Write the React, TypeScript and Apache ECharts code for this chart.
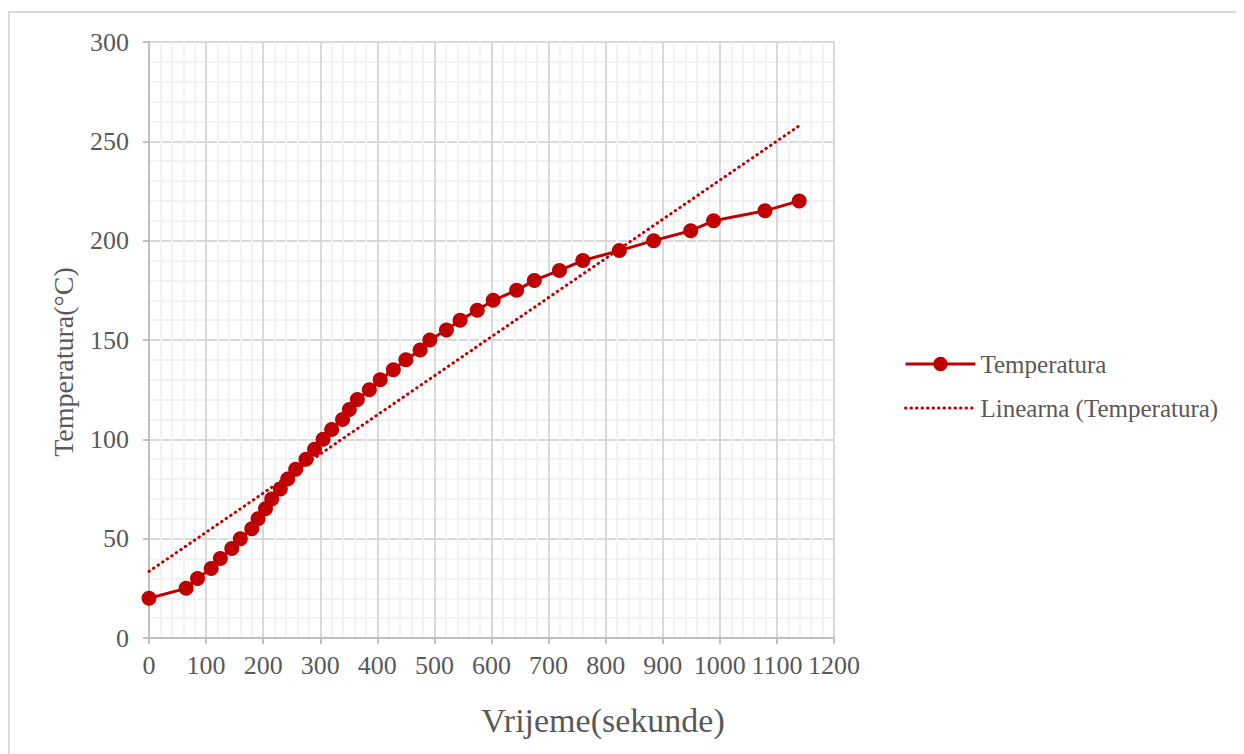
import React, { useEffect, useRef } from "react";
import * as echarts from "echarts";

const timeSec = [0, 65, 85, 109, 125, 145, 160, 180, 191, 204, 215, 230, 243, 257, 275, 290, 305, 320, 339, 351, 365, 386, 405, 428, 450, 475, 492, 521, 545, 575, 603, 644, 675, 719, 760, 824, 884, 949, 989, 1079, 1139];
const tempC = [20, 25, 30, 35, 40, 45, 50, 55, 60, 65, 70, 75, 80, 85, 90, 95, 100, 105, 110, 115, 120, 125, 130, 135, 140, 145, 150, 155, 160, 165, 170, 175, 180, 185, 190, 195, 200, 205, 210, 215, 220];
const trendX = [0, 1140];
const trendY = [33.5, 258];

const seriesName = "Temperatura";
const trendName = "Linearna (Temperatura)";
const xName = "Vrijeme(sekunde)";
const yName = "Temperatura(°C)";

const RED = "#c00000";
const GREY_TEXT = "#595959";
const FONT = "Liberation Serif";

export default function App() {
  const ref = useRef<HTMLDivElement>(null);
  useEffect(() => {
    if (!ref.current) return;
    const chart = echarts.init(ref.current, null, { renderer: "svg" });
    const data = timeSec.map((t, i) => [t, tempC[i]]);
    const trend = trendX.map((t, i) => [t, trendY[i]]);
    chart.setOption({
      animation: false,
      backgroundColor: "#ffffff",
      textStyle: { fontFamily: FONT },
      graphic: [
        {
          type: "rect",
          shape: { x: 1, y: 4, width: 2000, height: 2000 },
          style: { fill: "none", stroke: "#d9d9d9", lineWidth: 2 },
          silent: true,
        },
        {
          type: "text",
          x: 595,
          y: 712,
          style: {
            text: xName,
            fontFamily: FONT,
            fontSize: 34,
            fill: GREY_TEXT,
            align: "center",
            verticalAlign: "middle",
          },
        },
        {
          type: "text",
          x: 55,
          y: 354,
          rotation: Math.PI / 2,
          style: {
            text: yName,
            fontFamily: FONT,
            fontSize: 28,
            fill: GREY_TEXT,
            align: "center",
            verticalAlign: "middle",
          },
        },
      ],
      grid: { left: 141, top: 34, width: 685, height: 596, containLabel: false },
      legend: {
        orient: "vertical",
        left: 891,
        top: 336,
        itemWidth: 70,
        itemHeight: 18,
        itemGap: 14,
        textStyle: { fontFamily: FONT, fontSize: 25, color: GREY_TEXT, lineHeight: 30 },
        data: [
          { name: seriesName, lineStyle: { width: 3 } },
          { name: trendName, itemStyle: { opacity: 0 }, lineStyle: { width: 3 } },
        ],
      },
      xAxis: {
        type: "value",
        min: 0,
        max: 1200,
        interval: 100,
        axisLine: { show: true, lineStyle: { color: "#bfbfbf", width: 2 } },
        axisTick: { show: true, length: 6, lineStyle: { color: "#bfbfbf", width: 2 } },
        axisLabel: { fontFamily: FONT, fontSize: 26, color: GREY_TEXT, margin: 14, formatter: (v: number) => String(v) },
        splitLine: { show: true, lineStyle: { color: "#d9d9d9", width: 2 } },
        minorTick: { show: false, splitNumber: 5 },
        minorSplitLine: { show: true, lineStyle: { color: "#f2f2f2", width: 2 } },
      },
      yAxis: {
        type: "value",
        min: 0,
        max: 300,
        interval: 50,
        axisLine: { show: true, lineStyle: { color: "#bfbfbf", width: 2 } },
        axisTick: { show: true, length: 6, lineStyle: { color: "#bfbfbf", width: 2 } },
        axisLabel: { fontFamily: FONT, fontSize: 26, color: GREY_TEXT, margin: 20, formatter: (v: number) => String(v) },
        splitLine: { show: true, lineStyle: { color: "#d9d9d9", width: 2 } },
        minorTick: { show: false, splitNumber: 5 },
        minorSplitLine: { show: true, lineStyle: { color: "#f2f2f2", width: 2 } },
      },
      series: [
        {
          name: seriesName,
          type: "line",
          data,
          symbol: "circle",
          symbolSize: 15,
          color: RED,
          itemStyle: { color: RED },
          lineStyle: { color: RED, width: 3 },
          z: 3,
        },
        {
          name: trendName,
          type: "line",
          data: trend,
          symbol: "none",
          showSymbol: false,
          color: RED,
          lineStyle: { color: RED, width: 3, type: [0.5, 5], cap: "round" },
          z: 2,
        },
      ],
    });
    return () => chart.dispose();
  }, []);
  return <div ref={ref} style={{ width: 1236, height: 746 }} />;
}
